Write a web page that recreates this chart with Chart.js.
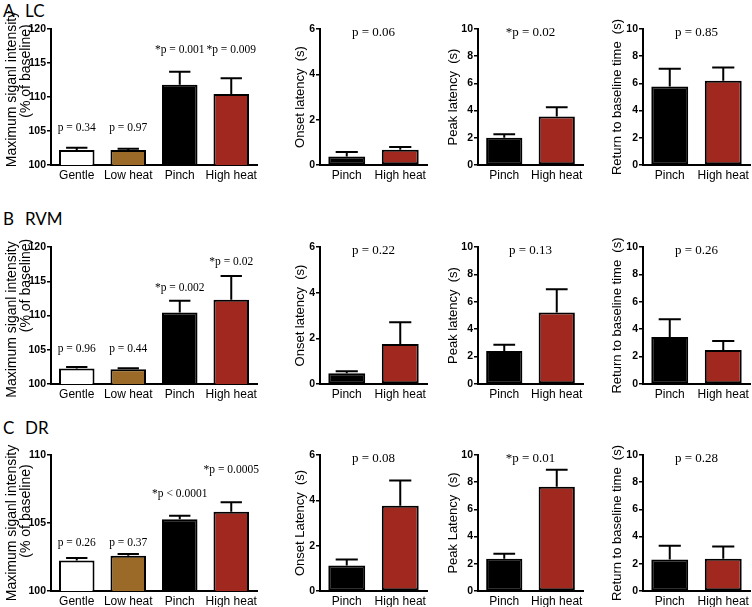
<!DOCTYPE html>
<html><head><meta charset="utf-8">
<script src="https://cdn.jsdelivr.net/npm/chart.js@4.4.0/dist/chart.umd.min.js"></script>
<style>
html,body{margin:0;padding:0;background:#fff;width:752px;height:607px;overflow:hidden;position:relative}
canvas{position:absolute}
.hd{position:absolute;font-family:Lato,"Open Sans",sans-serif;font-size:17px;color:#000;white-space:pre;line-height:1}
</style></head><body>
<div class="hd" style="left:3px;top:2px">A</div><div class="hd" style="left:25px;top:2px">LC</div>
<div class="hd" style="left:3px;top:210px">B</div><div class="hd" style="left:25px;top:210px">RVM</div>
<div class="hd" style="left:3px;top:419px">C</div><div class="hd" style="left:25px;top:419px">DR</div>
<script>
// ---------- categories ----------
const stimuli4 = ['Gentle', 'Low heat', 'Pinch', 'High heat'];
const stimuli2 = ['Pinch', 'High heat'];

// ---------- A: LC ----------
const lcIntensity = [102.2, 102.2, 111.8, 110.45];
const lcIntensitySem = [0.35, 0.2, 1.9, 2.3];
const lcIntensityP = ['p = 0.34', 'p = 0.97', '*p = 0.001', '*p = 0.009'];
const lcOnset = [0.37, 0.67];
const lcOnsetSem = [0.2, 0.12];
const lcOnsetP = 'p = 0.06';
const lcPeak = [2.0, 3.56];
const lcPeakSem = [0.26, 0.69];
const lcPeakP = '*p = 0.02';
const lcReturn = [5.77, 6.19];
const lcReturnSem = [1.31, 0.98];
const lcReturnP = 'p = 0.85';

// ---------- B: RVM ----------
const rvmIntensity = [102.25, 102.15, 110.45, 112.3];
const rvmIntensitySem = [0.25, 0.15, 1.7, 3.45];
const rvmIntensityP = ['p = 0.96', 'p = 0.44', '*p = 0.002', '*p = 0.02'];
const rvmOnset = [0.47, 1.75];
const rvmOnsetSem = [0.09, 0.95];
const rvmOnsetP = 'p = 0.22';
const rvmPeak = [2.4, 5.22];
const rvmPeakSem = [0.47, 1.69];
const rvmPeakP = 'p = 0.13';
const rvmReturn = [3.43, 2.48];
const rvmReturnSem = [1.3, 0.66];
const rvmReturnP = 'p = 0.26';

// ---------- C: DR ----------
const drIntensity = [102.25, 102.6, 105.27, 105.83];
const drIntensitySem = [0.18, 0.12, 0.27, 0.69];
const drIntensityP = ['p = 0.26', 'p = 0.37', '*p < 0.0001', '*p = 0.0005'];
const drOnset = [1.12, 3.76];
const drOnsetSem = [0.27, 1.11];
const drOnsetP = 'p = 0.08';
const drPeak = [2.38, 7.67];
const drPeakSem = [0.35, 1.25];
const drPeakP = '*p = 0.01';
const drReturn = [2.31, 2.38];
const drReturnSem = [1.01, 0.89];
const drReturnP = 'p = 0.28';

// ---------- styling ----------
const FONT = '"Liberation Sans", Arial, sans-serif';
const SERIF = '"Liberation Serif", "Times New Roman", serif';
const colors4 = ['#ffffff', '#9b6a28', '#000000', '#a1281f'];
const colors2 = ['#000000', '#a1281f'];
const rows = {A: {top: 29, bottom: 165}, B: {top: 247, bottom: 384}, C: {top: 455, bottom: 591}};
const cols = [
  {canvasLeft: 0, axisX: 51, plotRight: 257, titleX: [12, 26], titleSize: 14},
  {canvasLeft: 270, axisX: 320, plotRight: 427, titleX: [300], titleSize: 13},
  {canvasLeft: 430, axisX: 478, plotRight: 583, titleX: [453], titleSize: 13},
  {canvasLeft: 600, axisX: 643, plotRight: 750, titleX: [617], titleSize: 13}
];
// vertical shift (px) of each y-title line from the plot centre, column 1 only
const titleShift = {A: [-8, -26], B: [4, -30], C: [0, -12]};
const labelLift = {A: [20, 21, 22, 28], B: [18, 19, 13, 14], C: [15, 11, 22, 32]};

function makePanel(row, colIdx, labels, values, sem, pText, yMin, yMax, step, title) {
  const r = rows[row], c = cols[colIdx];
  const padTop = 32, padRight = 8, xH = 24;
  const W = c.plotRight - c.canvasLeft + padRight;
  const H = padTop + (r.bottom - r.top) + xH;
  const canvas = document.createElement('canvas');
  canvas.width = W; canvas.height = H;
  canvas.style.left = c.canvasLeft + 'px';
  canvas.style.top = (r.top - padTop) + 'px';
  canvas.style.width = W + 'px'; canvas.style.height = H + 'px';
  document.body.appendChild(canvas);
  const four = labels.length === 4;
  const titleLines = Array.isArray(title) ? title : [title];
  const overlay = {
    id: 'overlay',
    afterDatasetsDraw(chart) {
      const ctx = chart.ctx, y = chart.scales.y, meta = chart.getDatasetMeta(0);
      const ca = chart.chartArea;
      ctx.save();
      ctx.strokeStyle = '#000'; ctx.lineWidth = 2;
      meta.data.forEach((bar, i) => {
        const top = y.getPixelForValue(values[i] + sem[i]);
        const half = bar.width * 0.3;
        ctx.beginPath();
        ctx.moveTo(bar.x, bar.y); ctx.lineTo(bar.x, top);
        ctx.moveTo(bar.x - half, top); ctx.lineTo(bar.x + half, top);
        ctx.stroke();
      });
      ctx.fillStyle = '#000'; ctx.textAlign = 'center'; ctx.textBaseline = 'middle';
      if (four) {
        ctx.font = '11.5px ' + SERIF;
        meta.data.forEach((bar, i) => {
          const top = y.getPixelForValue(values[i] + sem[i]);
          ctx.fillText(pText[i], bar.x, top - labelLift[row][i]);
        });
      } else {
        ctx.font = '13px ' + SERIF;
        ctx.fillText(pText, (ca.left + ca.right) / 2, ca.top + 4);
      }
      // y-axis title(s), rotated
      ctx.font = c.titleSize + 'px ' + FONT;
      const midY = (ca.top + ca.bottom) / 2;
      titleLines.forEach((line, k) => {
        const shift = colIdx === 0 ? titleShift[row][k] : 0;
        ctx.save();
        ctx.translate(c.titleX[k] - c.canvasLeft, midY + shift);
        ctx.rotate(-Math.PI / 2);
        ctx.fillText(line, 0, 0);
        ctx.restore();
      });
      ctx.restore();
    }
  };
  new Chart(canvas, {
    type: 'bar',
    data: {labels: labels, datasets: [{
      data: values,
      backgroundColor: four ? colors4 : colors2,
      borderColor: '#000', borderWidth: 2, borderSkipped: false,
      barPercentage: 0.69, categoryPercentage: 1
    }]},
    options: {
      responsive: false, animation: false, devicePixelRatio: 1,
      layout: {padding: {top: padTop, right: padRight, left: 0, bottom: 0}},
      plugins: {legend: {display: false}, tooltip: {enabled: false}},
      scales: {
        x: {
          grid: {display: false, drawTicks: false},
          border: {display: true, color: '#000', width: 2},
          ticks: {color: '#000', font: {family: FONT, size: 12}, padding: 3, maxRotation: 0, autoSkip: false},
          afterFit(s) { s.height = xH; }
        },
        y: {
          min: yMin, max: yMax,
          ticks: {stepSize: step, color: '#000', font: {family: FONT, size: 10.5, weight: 'bold'}, padding: 1},
          grid: {display: true, drawOnChartArea: false, drawTicks: true, tickLength: 4, color: '#000', lineWidth: 1.5},
          border: {display: true, color: '#000', width: 2},
          title: {display: false},
          afterFit(s) { s.width = c.axisX - c.canvasLeft; }
        }
      }
    },
    plugins: [overlay]
  });
}

const intensityTitle = ['Maximum siganl intensity', '(% of baseline)'];
const returnTitle = 'Return to baseline time  (s)';

makePanel('A', 0, stimuli4, lcIntensity, lcIntensitySem, lcIntensityP, 100, 120, 5, intensityTitle);
makePanel('A', 1, stimuli2, lcOnset, lcOnsetSem, lcOnsetP, 0, 6, 2, 'Onset latency  (s)');
makePanel('A', 2, stimuli2, lcPeak, lcPeakSem, lcPeakP, 0, 10, 2, 'Peak latency  (s)');
makePanel('A', 3, stimuli2, lcReturn, lcReturnSem, lcReturnP, 0, 10, 2, returnTitle);

makePanel('B', 0, stimuli4, rvmIntensity, rvmIntensitySem, rvmIntensityP, 100, 120, 5, intensityTitle);
makePanel('B', 1, stimuli2, rvmOnset, rvmOnsetSem, rvmOnsetP, 0, 6, 2, 'Onset latency  (s)');
makePanel('B', 2, stimuli2, rvmPeak, rvmPeakSem, rvmPeakP, 0, 10, 2, 'Peak latency  (s)');
makePanel('B', 3, stimuli2, rvmReturn, rvmReturnSem, rvmReturnP, 0, 10, 2, returnTitle);

makePanel('C', 0, stimuli4, drIntensity, drIntensitySem, drIntensityP, 100, 110, 5, intensityTitle);
makePanel('C', 1, stimuli2, drOnset, drOnsetSem, drOnsetP, 0, 6, 2, 'Onset Latency  (s)');
makePanel('C', 2, stimuli2, drPeak, drPeakSem, drPeakP, 0, 10, 2, 'Peak Latency  (s)');
makePanel('C', 3, stimuli2, drReturn, drReturnSem, drReturnP, 0, 10, 2, returnTitle);
</script>
</body></html>
